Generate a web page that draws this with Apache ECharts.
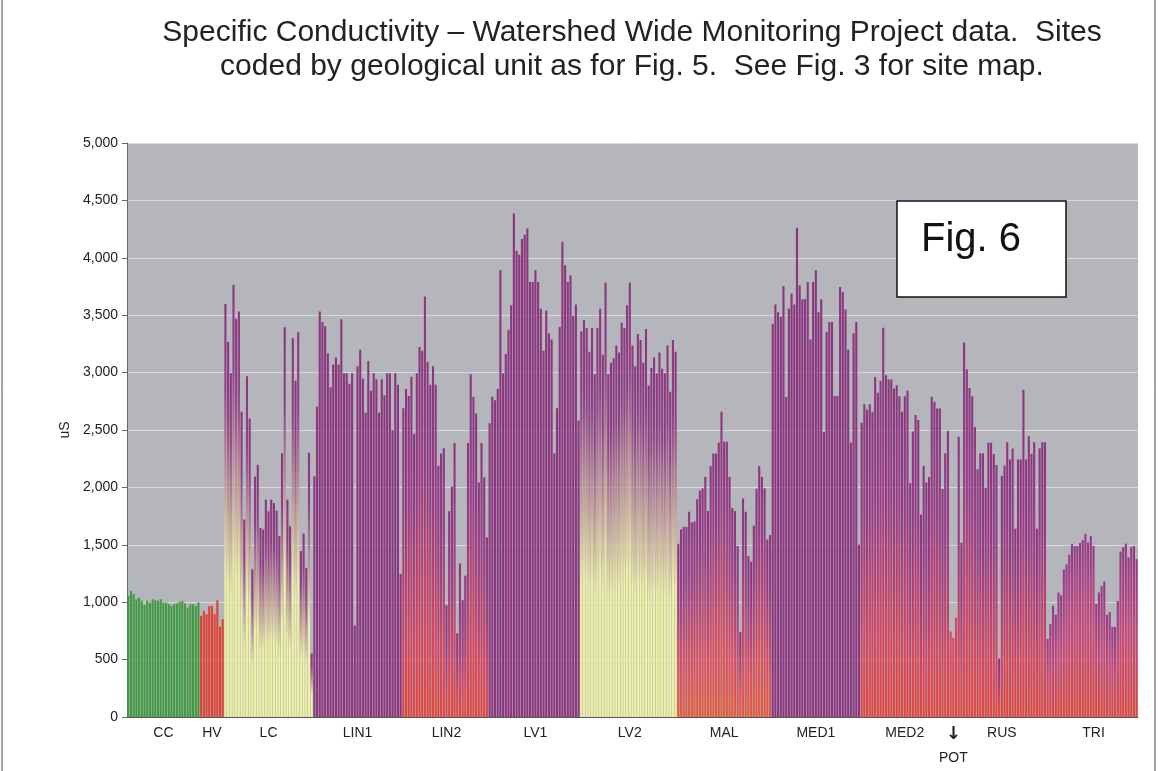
<!DOCTYPE html>
<html><head><meta charset="utf-8">
<script src="https://cdn.jsdelivr.net/npm/echarts@6/dist/echarts.min.js"></script>
<style>html,body{margin:0;padding:0;background:#fff}#c{width:1158px;height:771px}</style>
</head><body><div id="c"></div>
<script>
const groupNames = ['CC','HV','LC','LIN1','LIN2','LV1','LV2','MAL','MED1','MED2','POT','RUS','TRI'];
const ccValues = [1055,1098,1070,1026,1040,1012,977,1012,997,1026,1017,1012,1026,997,997,983,968,983,989,1003,1012,989,954,983,983,968,997];
const hvValues = [881,925,896,968,968,896,1017,786,852];
const lcValues = [3598,3266,2997,3765,3468,3532,2659,1720,2968,2601,1286,2095,2197,1647,1633,1893,1792,1893,1864,1798,1575,2298,3396,1893,1662,3300,2929,3352,1445,1597,1299,2302,553];
const lin1Values = [2097,2705,3532,3441,3404,3167,2872,3070,3131,3070,3465,2994,2994,2903,2994,796,3055,3198,2948,2650,3100,2842,2994,2942,2650,2942,2802,2994,2994,2498,2994,2894,1246];
const lin2Values = [2690,2857,2796,2964,2468,2994,3222,3191,3663,3094,2894,3055,2894,2188,2295,2340,973,1793,2006,2386,729,1337,1018,1231,2386,2985,2790,2644,2043,2386,2088,1565];
const lv1Values = [2559,2790,2760,2857,3891,2994,3161,3374,3587,4386,4061,4027,4164,4200,4255,3790,3790,3891,3790,3556,3191,3541,3343,3289,2295,2690,3398,4140,3936,3790,3845,3495,3593,2583];
const lv2Values = [3359,3456,3389,3182,3389,2985,3389,3556,3155,3784,2985,3085,3125,3237,3176,3435,3389,3587,3784,3237,3055,3337,3283,3085,3380,2888,3040,3131,2994,3176,3033,2994,3237,2833,3283,3182];
const malValues = [1508,1635,1656,1656,1788,1695,1704,1897,1972,1992,2092,1795,2185,2296,2296,2392,2660,2398,2398,2092,1820,1794,1491,740,1904,1788,1401,1353,1667,1988,2185,2092,1992,1545,1584];
const med1Values = [3425,3593,3526,3486,3754,2787,3556,3690,3593,4261,3760,3638,3638,3790,3289,3790,3891,3526,3638,2483,3356,3441,3441,2796,2796,3745,3700,3550,3200,2392,3343,3441,1500];
const med2Values = [2564,2725,2679,2725,2659,2962,2824,2928,3390,2977,2939,2939,2861,2890,2795,2659,2795,2841,2038,2486,2630,2587,1763,2188,2043,2090,2789,2746,2688,2688,1986,2298,2494];
const potValues = [745,690,865];
const rusValues = [2442,1518,3262,3030,2866,2794,2527,2158,2297,2297,1998,2390,2390,2291,2195,509,2100,2190,2393,2242,2338,1640,2242,2242,2850,2242,2445,2294,2393,1640,2341,2393,2393];
const triValues = [680,810,970,890,1085,1060,1285,1330,1415,1505,1490,1490,1515,1540,1595,1520,1575,1490,985,1085,1140,1180,890,915,785,785,1010,1440,1480,1510,1390,1480,1490,1375];
const groupValues = [ccValues,hvValues,lcValues,lin1Values,lin2Values,lv1Values,lv2Values,malValues,med1Values,med2Values,potValues,rusValues,triValues];
const yMax = 5000, yStep = 500;

const PURPLE = '#8b367f', YELLOW = '#eef0a4', RED = '#e3453b';
function grad(stops){ return {type:'linear',x:0,y:0,x2:0,y2:1,colorStops:stops.map(s=>({offset:s[0],color:s[1]}))}; }
const yellowGrad = grad([[0,PURPLE],[0.2,'#923f88'],[0.65,YELLOW],[1,YELLOW]]);
const redGrad = grad([[0,PURPLE],[0.35,'#983a86'],[0.78,'#d6465e'],[1,RED]]);
const malGrad = grad([[0,PURPLE],[0.3,'#9a3c86'],[0.75,'#dc5060'],[1,'#e65a3c']]);
const triGrad = grad([[0,'#933a89'],[0.5,'#c9477a'],[1,RED]]);
const groupColors = {CC:'#419b42',HV:'#df4331',LC:yellowGrad,LIN1:PURPLE,LIN2:redGrad,LV1:PURPLE,LV2:yellowGrad,MAL:malGrad,MED1:PURPLE,MED2:redGrad,POT:grad([[0,'#d8466a'],[1,RED]]),RUS:redGrad,TRI:triGrad};

const categories = [], data = [], labelAt = {};
groupNames.forEach((g,gi)=>{
  const vals = groupValues[gi];
  const start = categories.length;
  vals.forEach((v,i)=>{
    categories.push(g+' '+(i+1));
    data.push({value:v,itemStyle:{color:groupColors[g]}});
  });
  labelAt[start+Math.floor(vals.length/2)] = g;
});

const chart = echarts.init(document.getElementById('c'),null,{renderer:'canvas'});
chart.setOption({
  backgroundColor:'#ffffff',
  animation:false,
  grid:{left:127,right:20,top:143,bottom:54,show:true,backgroundColor:'#b4b6bb',borderWidth:0},
  xAxis:{type:'category',data:categories,
    axisLine:{lineStyle:{color:'#555',width:1}},axisTick:{show:false},
    axisLabel:{interval:0,margin:9,color:'#222',fontSize:14,fontFamily:'Liberation Sans',
      formatter:(val,idx)=>{const g=labelAt[idx]; if(!g) return ''; if(g==='POT') return '{a|↓}\n{b|POT}'; return g;},
      rich:{a:{fontSize:18,fontWeight:'bold',lineHeight:16,color:'#222',fontFamily:'DejaVu Sans'},b:{fontSize:14,lineHeight:32,color:'#222',fontFamily:'Liberation Sans'}}},
    splitLine:{show:false}},
  yAxis:{type:'value',min:0,max:yMax,interval:yStep,
    name:'uS',nameLocation:'middle',nameRotate:90,nameGap:27,
    nameTextStyle:{fontSize:14,color:'#222',fontFamily:'Liberation Sans'},
    axisLine:{show:true,lineStyle:{color:'#666'}},
    axisTick:{show:true,length:5,lineStyle:{color:'#666'}},
    axisLabel:{color:'#222',fontSize:14,fontFamily:'Liberation Sans',margin:9,formatter:v=>v.toLocaleString('en-US')},
    splitLine:{lineStyle:{color:'#d9dadd',width:1}}},
  series:[{type:'bar',data:data,barCategoryGap:'22%',itemStyle:{borderWidth:0}}],
  graphic:[
    {type:'text',style:{text:'Specific Conductivity – Watershed Wide Monitoring Project data.  Sites\ncoded by geological unit as for Fig. 5.  See Fig. 3 for site map.',
      x:632,y:16,textAlign:'center',font:'30px "Liberation Sans"',fill:'#222',lineHeight:34}},
    {type:'rect',shape:{x:897,y:201,width:169,height:96},style:{fill:'#fff',stroke:'#111',lineWidth:1.5},z:100},
    {type:'text',style:{text:'Fig. 6',x:971,y:240,textAlign:'center',textVerticalAlign:'middle',font:'40px "Liberation Sans"',fill:'#111'},z:101},
    {type:'line',shape:{x1:2,y1:0,x2:2,y2:771},style:{stroke:'#444',lineWidth:1}},
    {type:'line',shape:{x1:1155,y1:0,x2:1155,y2:771},style:{stroke:'#444',lineWidth:1}}
  ]
});
</script></body></html>
